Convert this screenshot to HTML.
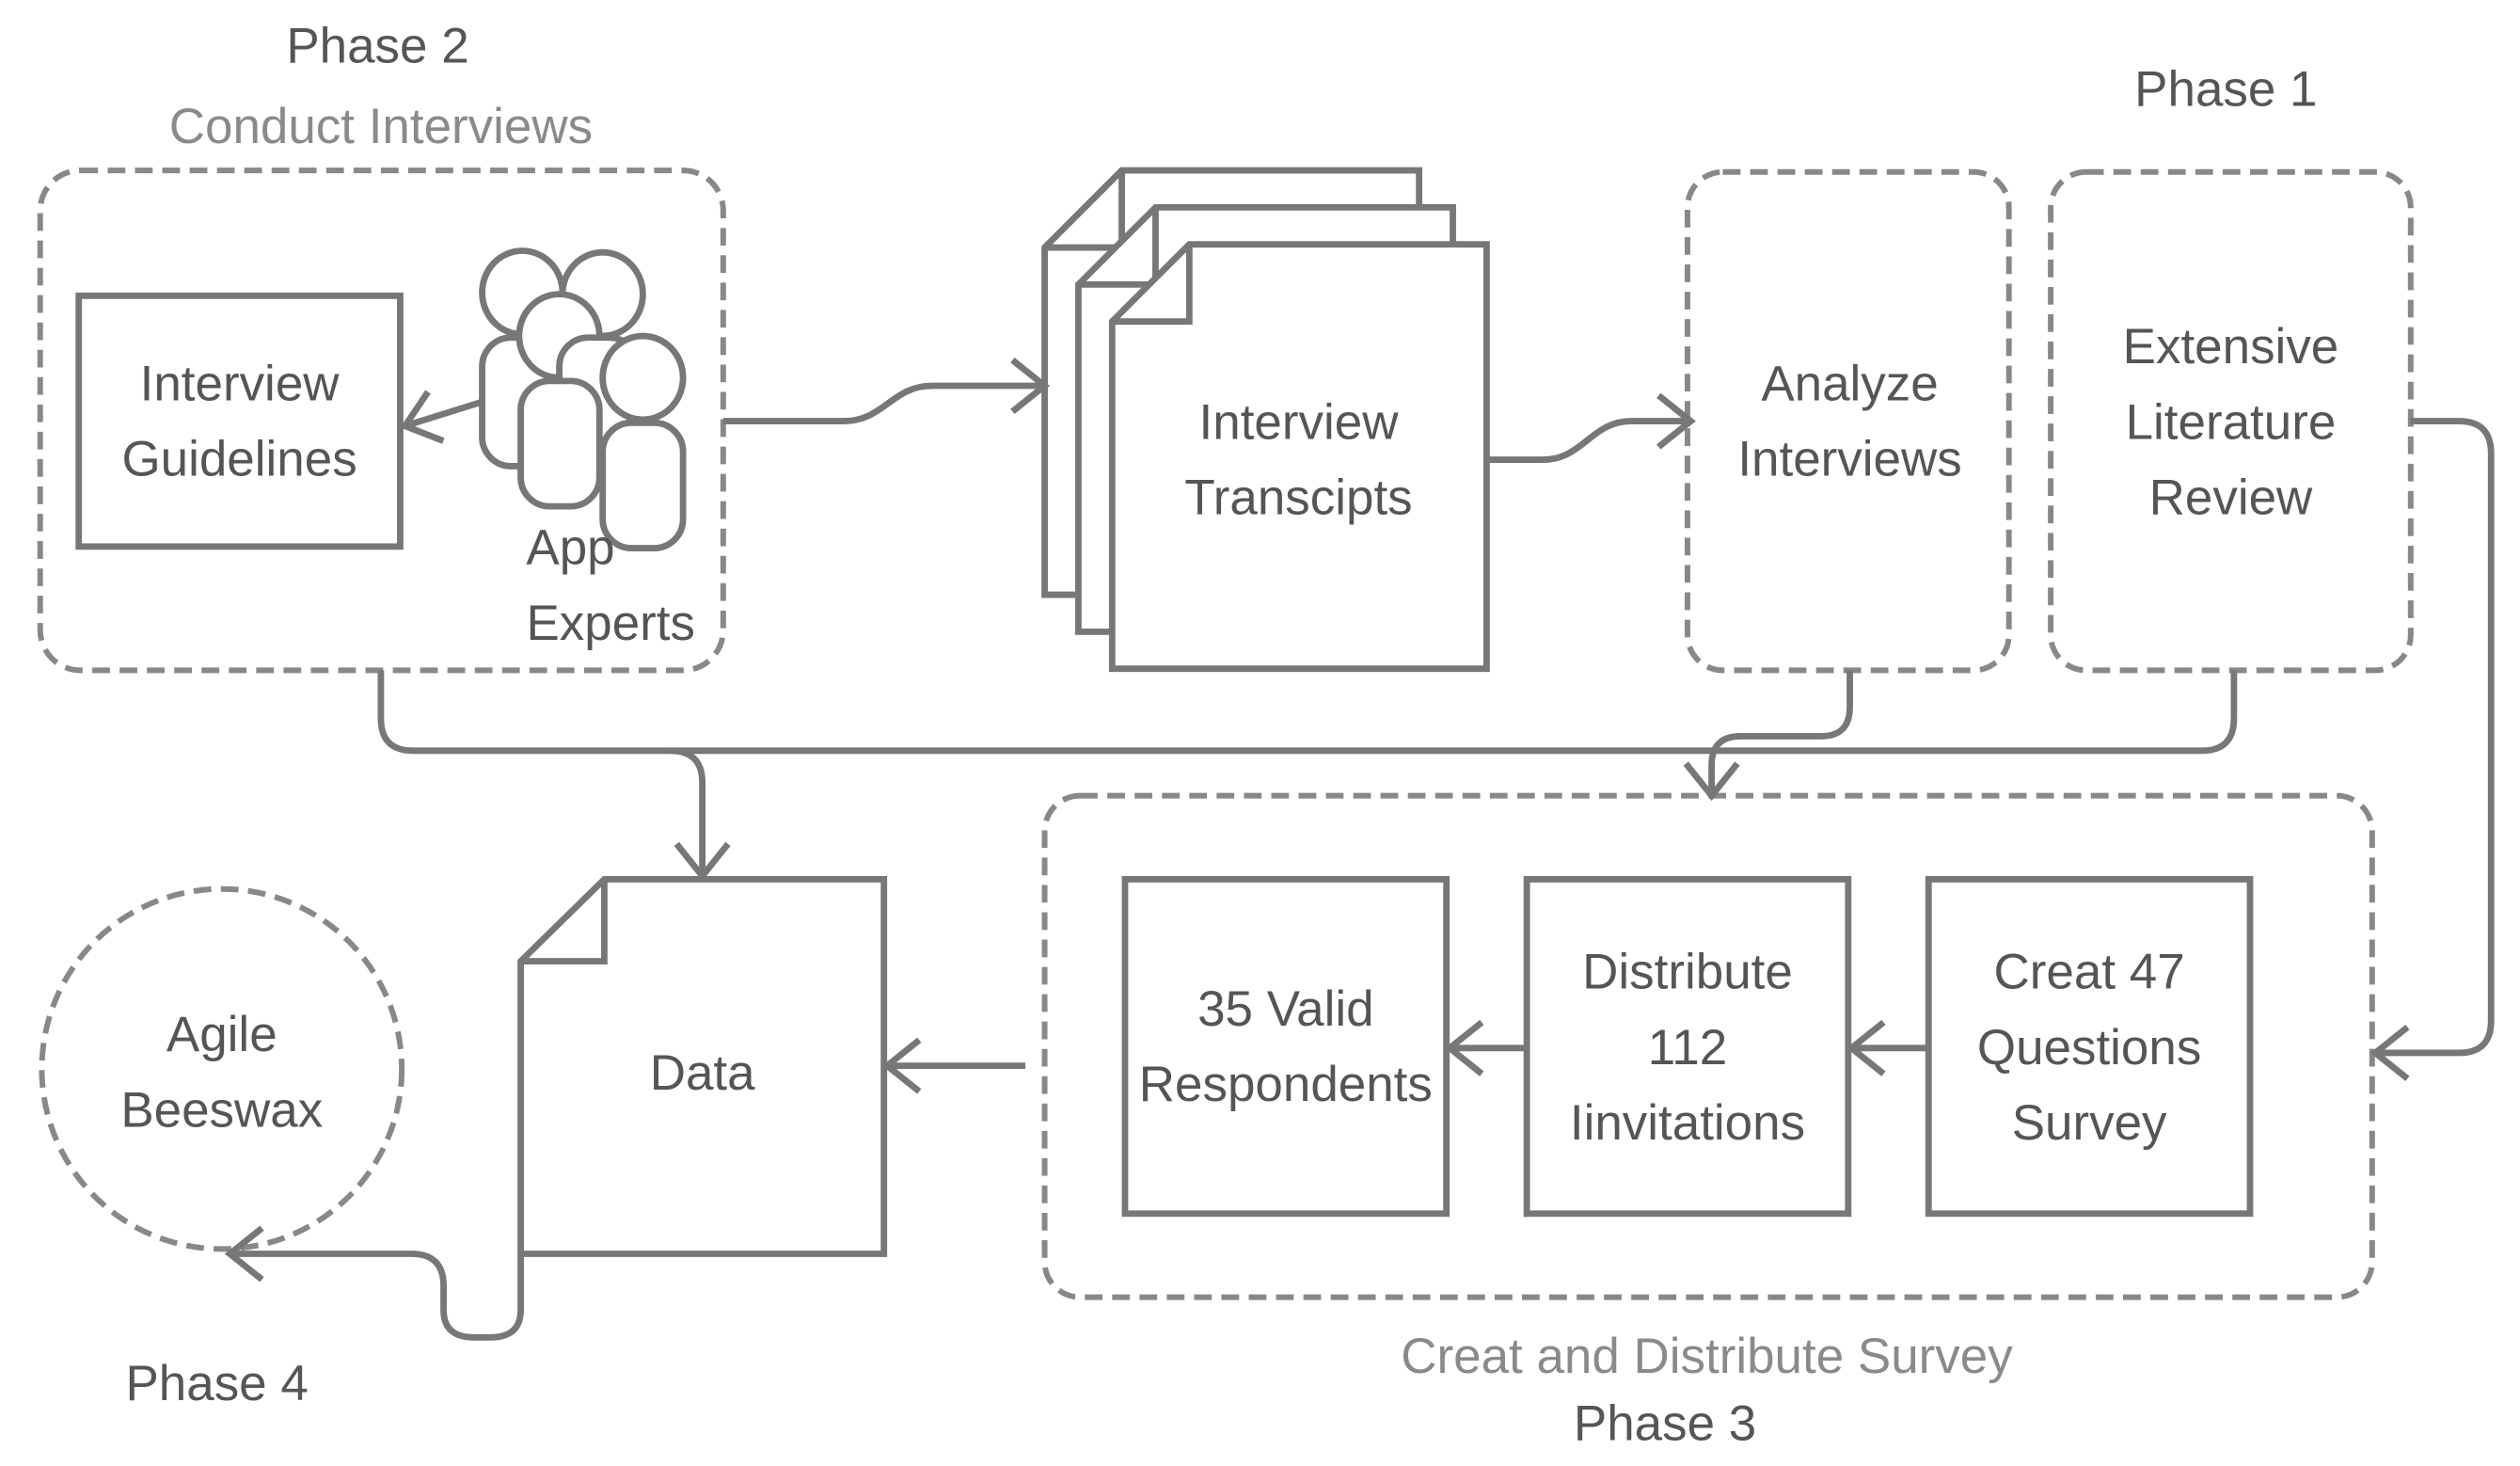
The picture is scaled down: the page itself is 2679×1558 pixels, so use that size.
<!DOCTYPE html>
<html><head><meta charset="utf-8"><style>
html,body{margin:0;padding:0;background:#fff;}
svg{display:block;}
text{font-family:"Liberation Sans",sans-serif;font-size:31px;fill:#555;text-anchor:middle;}
.g{fill:#8a8a8a;}
</style></head><body>
<svg width="2679" height="1558" viewBox="0 0 1568 912" preserveAspectRatio="none" xmlns="http://www.w3.org/2000/svg">
<defs>
<marker id="a" markerUnits="userSpaceOnUse" markerWidth="30" markerHeight="40" refX="22" refY="18" orient="auto">
<path d="M2,2 L22,18 L2,34" fill="none" stroke="#777" stroke-width="4"/>
</marker>
</defs>
<g fill="none" stroke="#888" stroke-width="3.5" stroke-dasharray="11,6">
<rect x="25" y="106" width="425" height="311" rx="25"/>
<rect x="1050" y="107" width="200" height="310" rx="22"/>
<rect x="1276" y="107" width="224" height="310" rx="22"/>
<rect x="650" y="495" width="826" height="312" rx="22"/>
<circle cx="138" cy="665" r="112"/>
</g>
<g fill="#fff" stroke="#777" stroke-width="4">
<rect x="49" y="184" width="200" height="156"/>
<rect x="700" y="547" width="200" height="208"/>
<rect x="950" y="547" width="200" height="208"/>
<rect x="1200" y="547" width="200" height="208"/>
<!-- people -->
<ellipse cx="325" cy="182" rx="25" ry="26"/>
<rect x="300" y="210" width="49" height="80" rx="18"/>
<ellipse cx="375" cy="183" rx="25" ry="26"/>
<ellipse cx="348" cy="209" rx="25" ry="26"/>
<rect x="348" y="210" width="49" height="80" rx="18"/>
<rect x="324" y="237" width="49" height="78" rx="18"/>
<ellipse cx="400" cy="235" rx="25" ry="26"/>
<rect x="375" y="263" width="50" height="78" rx="18"/>
<!-- docs -->
<path d="M650,154 L698,106 H883 V370 H650 Z"/>
<path d="M650,154 H698 V106" fill="none"/>
<path d="M671,177 L719,129 H904 V393 H671 Z"/>
<path d="M671,177 H719 V129" fill="none"/>
<path d="M692,200 L740,152 H925 V416 H692 Z"/>
<path d="M692,200 H740 V152" fill="none"/>
<path d="M324,598 L376,547 H550 V780 H324 Z"/>
<path d="M324,598 H376 V547" fill="none"/>
</g>
<g fill="none" stroke="#777" stroke-width="4">
<path d="M300,250 L252,265" marker-end="url(#a)"/>
<path d="M450,262 H525 C550,262 555,240 580,240 H650" marker-end="url(#a)"/>
<path d="M925,286 H960 C985,286 990,262 1015,262 H1052" marker-end="url(#a)"/>
<path d="M237,417 V447 Q237,467 257,467 H1370 Q1390,467 1390,447 V417"/>
<path d="M417,467 Q437,467 437,487 V545" marker-end="url(#a)"/>
<path d="M1151,417 V440 Q1151,458 1133,458 H1083 Q1065,458 1065,476 V495" marker-end="url(#a)"/>
<path d="M1500,262 H1530 Q1550,262 1550,282 V635 Q1550,655 1530,655 H1478" marker-end="url(#a)"/>
<path d="M1200,652 H1152" marker-end="url(#a)"/>
<path d="M950,652 H902" marker-end="url(#a)"/>
<path d="M638,663 H552" marker-end="url(#a)"/>
<path d="M324,780 V815 Q324,832 305,832 H295 Q276,832 276,815 V800 Q276,780 256,780 H143" marker-end="url(#a)"/>
</g>
<text x="235" y="39">Phase 2</text>
<text x="237" y="89" class="g">Conduct Interviews</text>
<text x="1385" y="66">Phase 1</text>
<text x="149" y="249">Interview</text>
<text x="149" y="296">Guidelines</text>
<text x="355" y="351">App</text>
<text x="380" y="398">Experts</text>
<text x="808" y="273">Interview</text>
<text x="808" y="320">Transcipts</text>
<text x="1151" y="249">Analyze</text>
<text x="1151" y="296">Interviews</text>
<text x="1388" y="226">Extensive</text>
<text x="1388" y="273">Literature</text>
<text x="1388" y="320">Review</text>
<text x="800" y="638">35 Valid</text>
<text x="800" y="685">Respondents</text>
<text x="1050" y="615">Distribute</text>
<text x="1050" y="662">112</text>
<text x="1050" y="709">Iinvitations</text>
<text x="1300" y="615">Creat 47</text>
<text x="1300" y="662">Questions</text>
<text x="1300" y="709">Survey</text>
<text x="437" y="678">Data</text>
<text x="138" y="654">Agile</text>
<text x="138" y="701">Beeswax</text>
<text x="135" y="871">Phase 4</text>
<text x="1062" y="854" class="g">Creat and Distribute Survey</text>
<text x="1036" y="896">Phase 3</text>
</svg>
</body></html>
